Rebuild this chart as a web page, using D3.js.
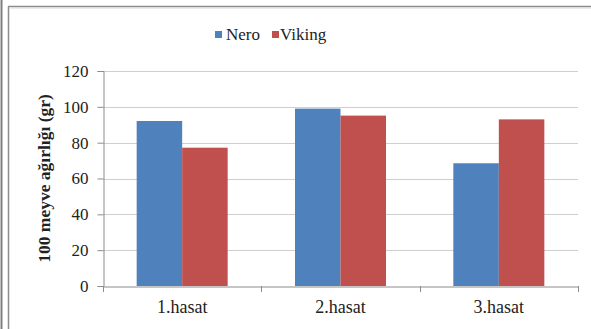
<!DOCTYPE html>
<html><head><meta charset="utf-8">
<script src="https://cdn.jsdelivr.net/npm/d3@7"></script>
<style>html,body{margin:0;padding:0;background:#fff;}svg{display:block;}</style>
</head><body>
<svg id="c" width="591" height="329"></svg>
<script>
const categories = ["1.hasat", "2.hasat", "3.hasat"];
const seriesNames = ["Nero", "Viking"];
const nero = [92.1, 99.0, 68.5];
const viking = [77.2, 95.1, 93.0];
const yTicks = [0, 20, 40, 60, 80, 100, 120];
const yTitle = "100 meyve ağırlığı (gr)";
const colors = ["#4F81BD", "#C0504D"];

(function () {
const svg = d3.select("#c");
const W = 591, H = 329;
const pLeft = 103, pRight = 578, pTop = 71, pBottom = 286;
const FF = '"Liberation Serif"';

// frame
svg.append("line").attr("x1", 1.5).attr("x2", 1.5).attr("y1", 0).attr("y2", H).attr("stroke", "#7f7f7f").attr("stroke-width", 2);
svg.append("line").attr("x1", 8.5).attr("x2", 8.5).attr("y1", 6.5).attr("y2", H).attr("stroke", "#8c8c8c").attr("stroke-width", 1.5);
svg.append("line").attr("x1", 8).attr("x2", W).attr("y1", 6.5).attr("y2", 6.5).attr("stroke", "#8c8c8c").attr("stroke-width", 1.5);
svg.append("line").attr("x1", 9).attr("x2", W).attr("y1", 8).attr("y2", 8).attr("stroke", "#d8d8d8").attr("stroke-width", 1);

const y = d3.scaleLinear().domain([0, 120]).range([pBottom, pTop]);
const x = d3.scaleBand().domain(categories).range([pLeft, pRight]).paddingInner(0).paddingOuter(0);
const inner = d3.scaleBand().domain(seriesNames).range([0, x.bandwidth()]).paddingInner(0).paddingOuter(0.74);

// gridlines
svg.append("g").selectAll("line").data(yTicks.filter(d => d > 0)).join("line")
  .attr("x1", pLeft).attr("x2", pRight)
  .attr("y1", d => Math.round(y(d)) + 0.5).attr("y2", d => Math.round(y(d)) + 0.5)
  .attr("stroke", "#cfcfcf").attr("stroke-width", 1.2);

// y axis
const yAxis = d3.axisLeft(y).tickValues(yTicks).tickSize(6).tickPadding(9);
const gy = svg.append("g").attr("transform", `translate(${pLeft + 0.5},0)`).call(yAxis);
gy.select(".domain").attr("stroke", "#8c8c8c");
gy.selectAll(".tick line").attr("stroke", "#8c8c8c");
gy.selectAll(".tick text").style("font-family", FF).attr("font-size", 17).attr("fill", "#222");

// bars
const data = categories.map((c, i) => ({c, vals: [nero[i], viking[i]]}));
const groups = svg.append("g").selectAll("g").data(data).join("g")
  .attr("transform", d => `translate(${x(d.c)},0)`);
groups.selectAll("rect").data(d => d.vals.map((v, j) => ({s: seriesNames[j], v, j}))).join("rect")
  .attr("x", d => inner(d.s)).attr("width", inner.bandwidth())
  .attr("y", d => y(d.v)).attr("height", d => y(0) - y(d.v))
  .attr("fill", d => colors[d.j]);

// x axis
const xAxis = d3.axisBottom(x).tickSize(0).tickPadding(14);
const gx = svg.append("g").attr("transform", `translate(0,${pBottom + 0.5})`).call(xAxis);
gx.select(".domain").attr("stroke", "#8c8c8c");
gx.selectAll(".tick text").style("font-family", FF).attr("font-size", 18).attr("fill", "#222");
svg.append("g").selectAll("line").data(d3.range(categories.length + 1)).join("line")
  .attr("x1", i => Math.round(pLeft + i * x.step()) + 0.5).attr("x2", i => Math.round(pLeft + i * x.step()) + 0.5)
  .attr("y1", pBottom).attr("y2", pBottom + 6).attr("stroke", "#8c8c8c");

// y title
svg.append("text").attr("transform", `translate(50,${(pTop + pBottom) / 2}) rotate(-90)`)
  .attr("text-anchor", "middle").style("font-family", FF).attr("font-weight", "bold")
  .attr("font-size", 17.5).attr("fill", "#222").text(yTitle);

// legend
const legendItems = [{n: seriesNames[0], x: 215, dx: 11}, {n: seriesNames[1], x: 272, dx: 8}];
const lg = svg.append("g").selectAll("g").data(legendItems).join("g")
  .attr("transform", d => `translate(${d.x},0)`);
lg.append("rect").attr("x", 0).attr("y", 31).attr("width", 7).attr("height", 7)
  .attr("fill", (d, i) => colors[i]);
lg.append("text").attr("x", d => d.dx).attr("y", 40).style("font-family", FF).attr("font-size", 17)
  .attr("fill", "#222").text(d => d.n);
})();
</script>
</body></html>
